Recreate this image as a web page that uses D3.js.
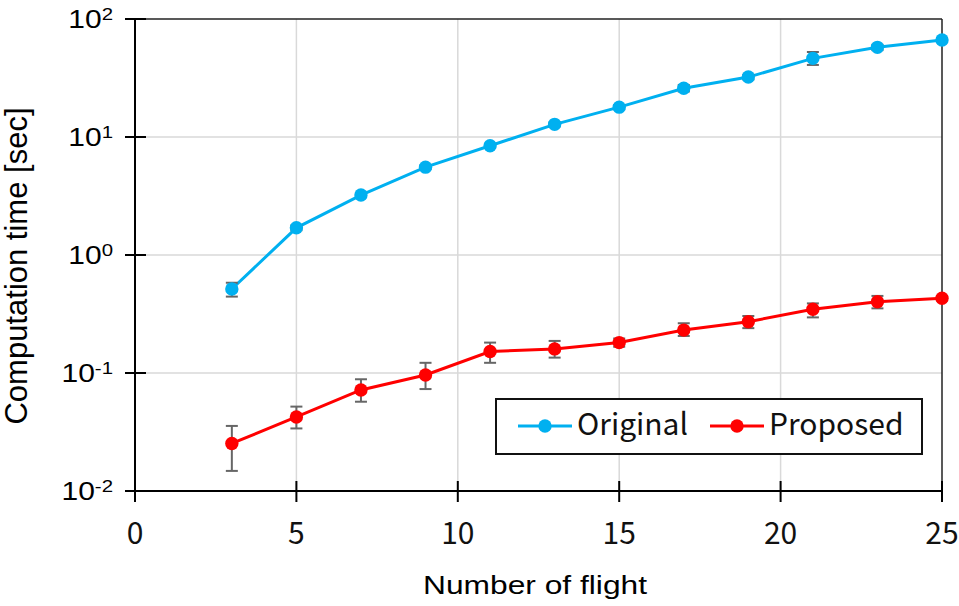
<!DOCTYPE html>
<html>
<head>
<meta charset="utf-8">
<script src="https://cdn.jsdelivr.net/npm/d3@7"></script>
<style>
  body { margin: 0; background: #fff; }
  svg { display: block; }
</style>
</head>
<body>
<div id="chart"></div>
<script>
// Data
const flights = [3, 5, 7, 9, 11, 13, 15, 17, 19, 21, 23, 25];

const originalMean = [0.515, 1.70, 3.22, 5.55, 8.43, 12.8, 17.9, 25.9, 32.2, 46.4, 57.5, 66.4];
const originalLow  = [0.444, 1.62, 3.10, 5.35, 8.15, 12.3, 17.2, 24.3, 30.8, 40.8, 54.5, 64.0];
const originalHigh = [0.582, 1.78, 3.34, 5.75, 8.70, 13.3, 18.6, 27.6, 33.6, 52.5, 60.5, 68.8];

const proposedMean = [0.0253, 0.0424, 0.0718, 0.0962, 0.152, 0.160, 0.181, 0.231, 0.272, 0.347, 0.402, 0.430];
const proposedLow  = [0.0148, 0.0339, 0.0571, 0.0731, 0.122, 0.135, 0.167, 0.206, 0.240, 0.296, 0.353, 0.412];
const proposedHigh = [0.0356, 0.0519, 0.0885, 0.122, 0.181, 0.187, 0.196, 0.264, 0.304, 0.389, 0.450, 0.450];

const xTicks = [0, 5, 10, 15, 20, 25];
const yTicks = [0.01, 0.1, 1, 10, 100];
const yTickExp = ["-2", "-1", "0", "1", "2"];

const seriesNames = ["Original", "Proposed"];
const seriesColors = ["#00b0f0", "#ff0000"];

const width = 959, height = 606;

const svg = d3.select("#chart")
    .append("svg")
    .attr("width", width)
    .attr("height", height);

const x = d3.scaleLinear()
    .domain([0, 25])
    .range([135, 942]);

const y = d3.scaleLog()
    .domain([0.01, 100])
    .range([491, 19]);

// Gridlines
svg.selectAll(".vgrid")
    .data(xTicks.filter(d => d > 0 && d < 25))
    .enter()
    .append("line")
    .attr("x1", d => x(d)).attr("x2", d => x(d))
    .attr("y1", y(100)).attr("y2", y(0.01))
    .attr("stroke", "#d9d9d9")
    .attr("stroke-width", 1.5);

svg.selectAll(".hgrid")
    .data(yTicks.filter(d => d > 0.01 && d < 100))
    .enter()
    .append("line")
    .attr("x1", x(0)).attr("x2", x(25))
    .attr("y1", d => y(d)).attr("y2", d => y(d))
    .attr("stroke", "#d9d9d9")
    .attr("stroke-width", 1.5);

// Frame (top / right)
svg.append("line")
    .attr("x1", x(0)).attr("x2", x(25))
    .attr("y1", y(100)).attr("y2", y(100))
    .attr("stroke", "#222").attr("stroke-width", 1.5);
svg.append("line")
    .attr("x1", x(25)).attr("x2", x(25))
    .attr("y1", y(100)).attr("y2", y(0.01))
    .attr("stroke", "#222").attr("stroke-width", 1.5);

// Axes
svg.append("line")
    .attr("x1", x(0)).attr("x2", x(0))
    .attr("y1", y(100)).attr("y2", y(0.01))
    .attr("stroke", "#000").attr("stroke-width", 2);
svg.append("line")
    .attr("x1", x(0) - 10).attr("x2", x(25))
    .attr("y1", y(0.01)).attr("y2", y(0.01))
    .attr("stroke", "#000").attr("stroke-width", 2);

// Y ticks (cross the axis)
svg.selectAll(".ytick")
    .data(yTicks)
    .enter()
    .append("line")
    .attr("x1", x(0) - 10).attr("x2", x(0) + 11)
    .attr("y1", d => y(d)).attr("y2", d => y(d))
    .attr("stroke", "#000").attr("stroke-width", 2);

// X ticks
svg.selectAll(".xtick")
    .data(xTicks)
    .enter()
    .append("line")
    .attr("x1", d => x(d)).attr("x2", d => x(d))
    .attr("y1", y(0.01) - 10).attr("y2", y(0.01) + 11)
    .attr("stroke", "#000").attr("stroke-width", 2);

// Y tick labels 10^n
const yLab = svg.selectAll(".ylab")
    .data(yTicks)
    .enter()
    .append("g")
    .attr("transform", d => `translate(113,${y(d) + 9}) scale(1.2,1)`)
    .append("text")
    .attr("text-anchor", "end")
    .style("font-family", "'Liberation Sans', Arial, sans-serif")
    .style("fill", "#000");
yLab.append("tspan")
    .style("font-size", "25px")
    .text("10");
yLab.append("tspan")
    .attr("dy", -8)
    .style("font-size", "17px")
    .text((d, i) => yTickExp[i]);

// X tick labels
svg.selectAll(".xlab")
    .data(xTicks)
    .enter()
    .append("text")
    .attr("x", d => x(d))
    .attr("y", 544)
    .attr("text-anchor", "middle")
    .style("font-family", "'Noto Sans CJK JP', sans-serif")
    .style("font-size", "30px")
    .style("fill", "#111")
    .text(d => d);

// Axis titles
svg.append("text")
    .attr("x", 535)
    .attr("y", 594)
    .attr("text-anchor", "middle")
    .attr("textLength", 224)
    .attr("lengthAdjust", "spacingAndGlyphs")
    .style("font-family", "'Liberation Sans', Arial, sans-serif")
    .style("font-size", "26px")
    .text("Number of flight");

svg.append("text")
    .attr("transform", "translate(27,266) rotate(-90)")
    .attr("text-anchor", "middle")
    .style("font-family", "'Liberation Sans', Arial, sans-serif")
    .style("font-size", "31px")
    .text("Computation time [sec]");

// Series
const series = [
    { mean: originalMean, low: originalLow, high: originalHigh },
    { mean: proposedMean, low: proposedLow, high: proposedHigh }
];

const line = d3.line()
    .x(d => x(d.f))
    .y(d => y(d.v));

series.forEach((s, k) => {
    const pts = flights.map((f, i) => ({ f: f, v: s.mean[i], lo: s.low[i], hi: s.high[i] }));
    const g = svg.append("g");

    g.append("path")
        .datum(pts)
        .attr("fill", "none")
        .attr("stroke", seriesColors[k])
        .attr("stroke-width", 3)
        .attr("d", line);

    // error bars
    const eb = g.selectAll(".eb")
        .data(pts)
        .enter()
        .append("g")
        .attr("stroke", "#666")
        .attr("stroke-width", 2);
    eb.append("line")
        .attr("x1", d => x(d.f)).attr("x2", d => x(d.f))
        .attr("y1", d => y(d.lo)).attr("y2", d => y(d.hi));
    eb.append("line")
        .attr("x1", d => x(d.f) - 6).attr("x2", d => x(d.f) + 6)
        .attr("y1", d => y(d.lo)).attr("y2", d => y(d.lo));
    eb.append("line")
        .attr("x1", d => x(d.f) - 6).attr("x2", d => x(d.f) + 6)
        .attr("y1", d => y(d.hi)).attr("y2", d => y(d.hi));

    g.selectAll(".dot")
        .data(pts)
        .enter()
        .append("circle")
        .attr("cx", d => x(d.f))
        .attr("cy", d => y(d.v))
        .attr("r", 6.7)
        .attr("fill", seriesColors[k]);
});

// Legend
const legend = svg.append("g");
legend.append("rect")
    .attr("x", 496).attr("y", 399)
    .attr("width", 426).attr("height", 55)
    .attr("fill", "#fff")
    .attr("stroke", "#111")
    .attr("stroke-width", 2);

const legendX = [518, 710];
seriesNames.forEach((name, k) => {
    legend.append("line")
        .attr("x1", legendX[k]).attr("x2", legendX[k] + 54)
        .attr("y1", 426).attr("y2", 426)
        .attr("stroke", seriesColors[k])
        .attr("stroke-width", 3);
    legend.append("circle")
        .attr("cx", legendX[k] + 27).attr("cy", 426)
        .attr("r", 6.7)
        .attr("fill", seriesColors[k]);
    legend.append("text")
        .attr("x", legendX[k] + 59)
        .attr("y", 435)
        .style("font-family", "'Noto Sans CJK JP', sans-serif")
        .style("font-size", "30px")
        .style("fill", "#111")
        .text(name);
});
</script>
</body>
</html>
